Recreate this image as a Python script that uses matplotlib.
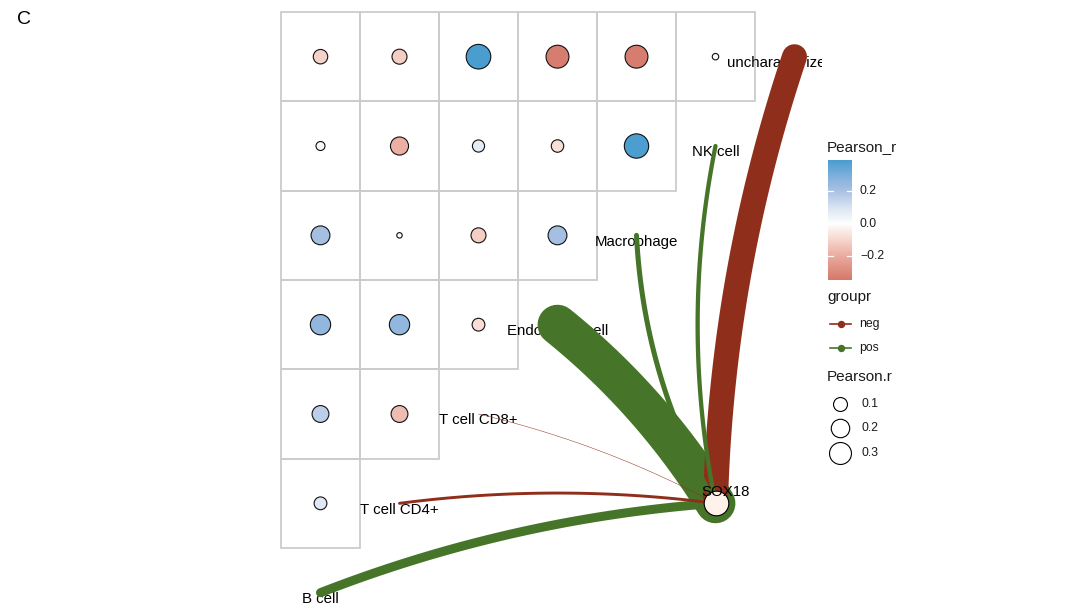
import numpy as np
import matplotlib
matplotlib.use("Agg")
import matplotlib.pyplot as plt
from matplotlib.colors import LinearSegmentedColormap, Normalize
from matplotlib.patches import Rectangle
from matplotlib.transforms import ScaledTranslation

plt.rcParams['font.family'] = ['Liberation Sans', 'DejaVu Sans']

# ------------------------------------------------------------------
# Data
# ------------------------------------------------------------------
cell_types = ["B cell", "T cell CD4+", "T cell CD8+", "Endothelial cell",
              "Macrophage", "NK cell", "uncharacterized"]

# pairwise Pearson r between cell types, triangle rows listed from the top
corr_rows = [
    [-0.11, -0.12, 0.39, -0.33, -0.33, 0.01],
    [0.03, -0.19, 0.07, -0.075, 0.38],
    [0.21, 0.005, -0.12, 0.21],
    [0.25, 0.25, -0.08],
    [0.16, -0.16],
    [0.08],
]

# SOX18 vs. each cell type (link width and sign)
gene = "SOX18"
link_r = [0.093, -0.030, -0.005, 0.41, 0.052, 0.044, -0.257]

fill_limits = (-0.345, 0.388)
cbar_ticks = [-0.2, 0.0, 0.2]
size_breaks = [0.1, 0.2, 0.3]
group_labels = ["neg", "pos"]

# ------------------------------------------------------------------
# Styling / layout
# ------------------------------------------------------------------
W, H, DPI = 1073, 613, 100
CELL_W, CELL_H = 79.0, 89.33          # pixel size of one grid cell
GRID_X0, GRID_Y0 = 281.0, 548.0       # pixel position of grid origin (bottom-left)
PANEL_RIGHT = 822.0

RED, GREEN = "#8F2F1B", "#467529"
GRID_COL = "#CCCCCC"
TXT = "#1A1A1A"

# curvature of each link (share of chord length, sign = side of bulge)
link_curv = [-0.075, -0.065, -0.065, -0.085, 0.12, 0.10, 0.075]
label_nudge = [0, 0, 0, 0, 0, 0, -10]   # points

fill_stops = [(-0.345, "#D5786A"), (-0.2, "#EAAB9F"), (-0.1, "#F6D6CD"),
              (0.0, "#FFFFFF"), (0.1, "#D9E3F2"), (0.2, "#AAC1E3"),
              (0.3, "#7BAEDC"), (0.388, "#4A9DCF")]
lo, hi = fill_limits
cmap = LinearSegmentedColormap.from_list(
    "pearson", [((v - lo) / (hi - lo), c) for v, c in fill_stops])
norm = Normalize(lo, hi)


def radius_px(v):
    return 1.5 + 17.3 * np.sqrt(np.abs(v))


def marker_area(r_px):
    return (2 * r_px * 72.0 / DPI) ** 2


def bezier(p0, p1, curv, n=80):
    # quadratic curve computed in pixel space so the bend is not distorted
    s = np.array([CELL_W, CELL_H])
    a, b = np.asarray(p0) * s, np.asarray(p1) * s
    d = b - a
    ctrl = (a + b) / 2 + curv * np.array([-d[1], d[0]])
    t = np.linspace(0, 1, n)[:, None]
    pts = (1 - t) ** 2 * a + 2 * t * (1 - t) * ctrl + t ** 2 * b
    return pts[:, 0] / s[0], pts[:, 1] / s[1]


fig = plt.figure(figsize=(W / DPI, H / DPI), dpi=DPI)

ax = fig.add_axes([0, 0, PANEL_RIGHT / W, 1])
ax.set_xlim(-GRID_X0 / CELL_W, (PANEL_RIGHT - GRID_X0) / CELL_W)
ax.set_ylim((GRID_Y0 - H) / CELL_H, GRID_Y0 / CELL_H)
ax.axis("off")

n = len(corr_rows)

# grid and correlation circles
xs, ys, vals = [], [], []
for i, row in enumerate(corr_rows):
    for j, v in enumerate(row):
        ax.add_patch(Rectangle((j, n - 1 - i), 1, 1, fill=False,
                               edgecolor=GRID_COL, linewidth=1.3, zorder=1))
        xs.append(j + 0.5)
        ys.append(n - 0.5 - i)
        vals.append(v)
vals = np.array(vals)
ax.scatter(xs, ys, s=marker_area(radius_px(vals)), c=vals, cmap=cmap, norm=norm,
           edgecolors="#111111", linewidths=0.8, zorder=2)

# link endpoints along the diagonal, SOX18 node at the lower right
ends = [(k + 0.5, k - 0.5) for k in range(len(cell_types))]
node = (n - 0.5, 0.5)

for k, name in enumerate(cell_types):
    tr = ax.transData + ScaledTranslation(label_nudge[k] / 72, -4.5 / 72,
                                          fig.dpi_scale_trans)
    ax.text(ends[k][0], ends[k][1], name, transform=tr, ha="center",
            va="center", fontsize=10.8, color="black", clip_on=True, zorder=3)

for k in np.argsort(-np.abs(link_r)):
    r = link_r[k]
    bx, by = bezier(node, ends[k], link_curv[k])
    ax.plot(bx, by, color=RED if r < 0 else GREEN, linewidth=70 * abs(r),
            solid_capstyle="round", zorder=4)

ax.scatter([node[0]], [node[1]], s=marker_area(12.3), color="#FFF2EB",
           edgecolors="black", linewidths=0.8, zorder=6)
tr = ax.transData + ScaledTranslation(7.5 / 72, 8.5 / 72, fig.dpi_scale_trans)
ax.text(node[0], node[1], gene, transform=tr, ha="center", va="center",
        fontsize=10.8, color="black", zorder=7)

# ------------------------------------------------------------------
# Legends
# ------------------------------------------------------------------
fig.text(17 / W, 1 - 20 / H, "C", fontsize=14, ha="left", va="center")

fig.text(827 / W, 1 - 147 / H, "Pearson_r", fontsize=11, color=TXT, va="center")
cax = fig.add_axes([828 / W, 1 - 280 / H, 24 / W, 120 / H])
grad = np.linspace(lo, hi, 256)[:, None]
cax.imshow(grad, cmap=cmap, norm=norm, origin="lower", aspect="auto",
           extent=(0, 1, lo, hi))
for t in cbar_ticks:
    cax.plot([0, 0.2], [t, t], color="white", lw=0.9)
    cax.plot([0.8, 1], [t, t], color="white", lw=0.9)
    fig.text(860 / W, 1 - (280 - (t - lo) / (hi - lo) * 120) / H,
             f"{t:.1f}".replace("-", "\u2212"), fontsize=8.8, color=TXT,
             va="center")
cax.set_xlim(0, 1)
cax.set_ylim(lo, hi)
cax.axis("off")

lax = fig.add_axes([0, 0, 1, 1])
lax.set_xlim(0, W)
lax.set_ylim(H, 0)
lax.axis("off")

fig.text(827 / W, 1 - 297 / H, "groupr", fontsize=11, color=TXT, va="center")
for lab, col, yy in zip(group_labels, [RED, GREEN], [324, 348]):
    lax.plot([830, 851], [yy, yy], color=col, lw=1.2)
    lax.scatter([840.5], [yy], s=marker_area(3), color=col, zorder=3)
    lax.text(859, yy, lab, fontsize=8.8, color=TXT, va="center")

fig.text(827 / W, 1 - 377 / H, "Pearson.r", fontsize=11, color=TXT, va="center")
for b, yy in zip(size_breaks, [404, 428, 453]):
    lax.scatter([840], [yy], s=marker_area(radius_px(b)), facecolor="white",
                edgecolors="black", linewidths=0.8)
    lax.text(862, yy, f"{b:.1f}", fontsize=8.8, color=TXT, va="center")

fig.savefig("out.png", dpi=DPI)
